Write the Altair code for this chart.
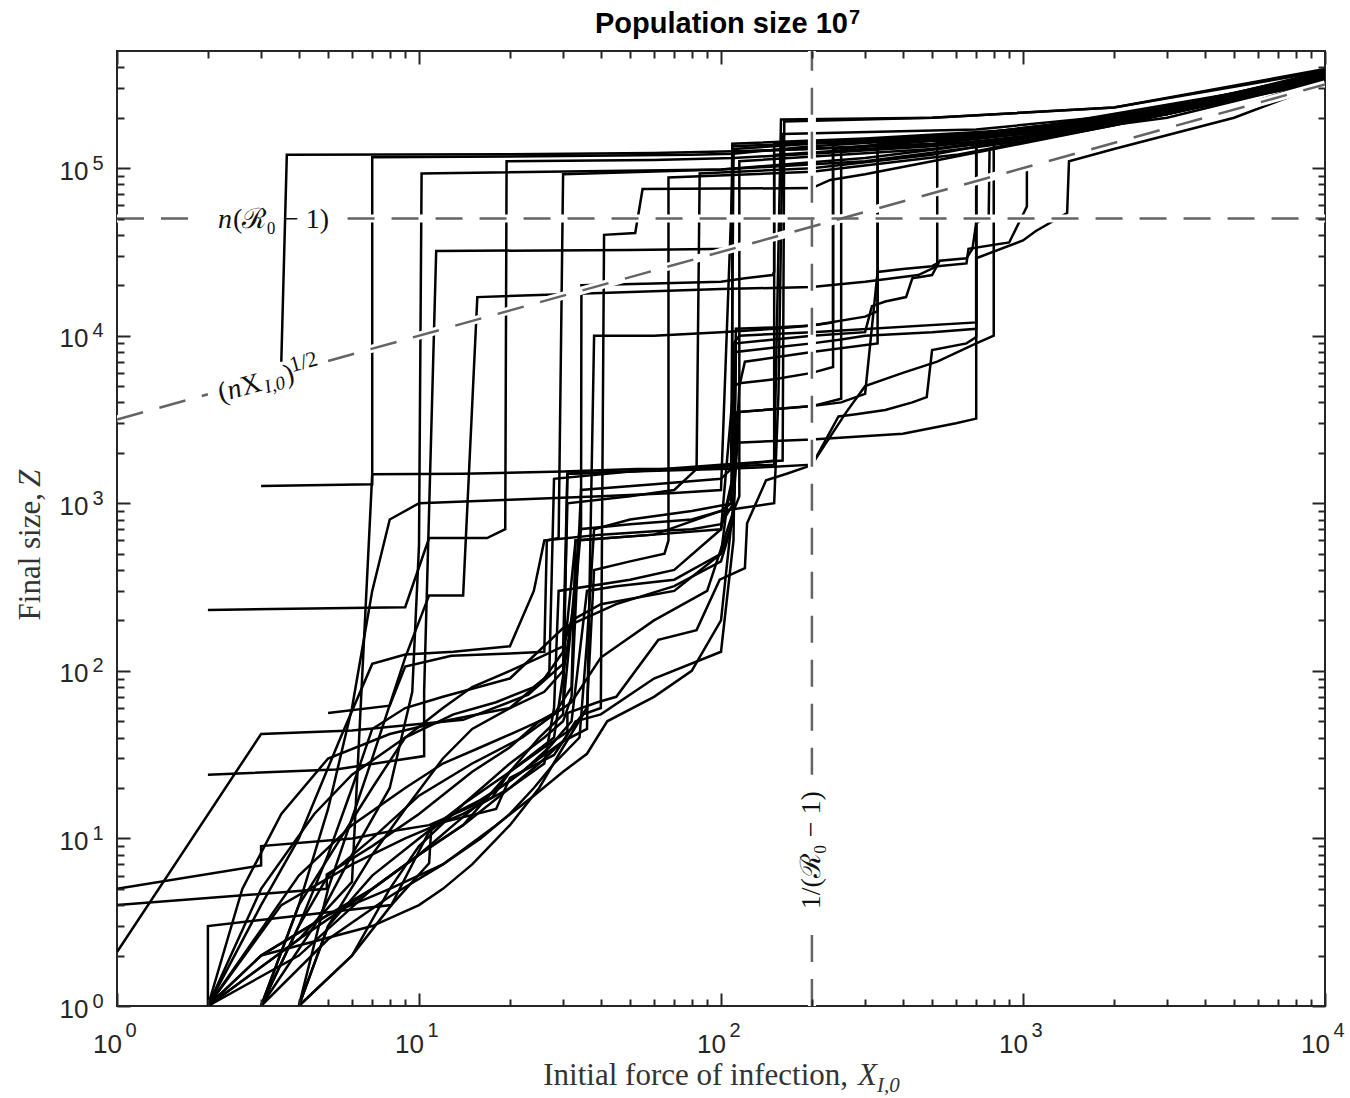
import altair as alt
import pandas as pd

# ---------------- simulated trajectories (X_I,0 , final size Z) ----------------
t01_x = [2, 9, 10.8, 16.8, 19.3, 19.5, 60, 110, 200, 500, 1000, 2000, 5000, 10000]
t01_z = [231, 240, 620, 620, 700, 110000, 112000, 115000, 122000, 135000, 155000, 190000, 260000, 360000]
t02_x = [3, 7, 7, 30, 80, 110, 200, 700, 2000, 5000, 10000]
t02_z = [1270, 1300, 116000, 118000, 120000, 122000, 135000, 155000, 200000, 270000, 370000]
t03_x = [5, 8, 9, 12.8, 20, 26, 26.5, 29, 30, 100, 300, 1000, 3000, 10000]
t03_z = [56, 62, 106, 123, 127, 130, 600, 620, 92000, 98000, 110000, 145000, 210000, 340000]
t04_x = [2, 5.3, 10.4, 10.4, 11.4, 50, 108, 109, 500, 2000, 10000]
t04_z = [24, 25.8, 31, 75, 32000, 32500, 33000, 135000, 150000, 200000, 350000]
t05_x = [1, 3, 6, 14, 23, 30, 33, 60, 100, 108, 110, 115, 200, 700, 700, 3000, 10000]
t05_z = [2.1, 42, 44, 51, 72, 110, 600, 650, 900, 1000, 9000, 10000, 10500, 12000, 150000, 220000, 360000]
t06_x = [1, 3, 3, 6, 8, 10.8, 17.5, 20, 25, 30, 31, 50, 100, 150, 158, 500, 2000, 10000]
t06_z = [5, 6.9, 9, 10, 11, 12, 17.6, 25, 40, 55, 1500, 1550, 1650, 1700, 195000, 200000, 230000, 390000]
t07_x = [1, 4.95, 4.95, 7, 10, 15, 20, 25, 30, 32, 34, 50, 80, 100, 150, 155, 160, 700, 3000, 10000]
t07_z = [4, 5, 6.1, 9, 14, 25, 35, 50, 60, 200, 700, 750, 800, 900, 1000, 4500, 160000, 170000, 220000, 360000]
t08_x = [2, 2, 8.1, 10.8, 13, 16, 20, 25, 30, 36, 38, 60, 100, 150, 200, 300, 330, 330, 2000, 10000]
t08_z = [1, 3, 4, 11, 14, 17, 22, 30, 38, 45, 10000, 10000, 10500, 11000, 11500, 13000, 14000, 138000, 200000, 360000]
t09_x = [3, 7, 10, 12, 15, 20, 25, 30, 35, 40, 41, 52, 55, 200, 230, 300, 500, 2000, 10000]
t09_z = [2, 3, 4, 5, 7, 12, 20, 35, 55, 60, 40000, 41000, 75000, 76000, 85000, 92000, 110000, 180000, 330000]
t10_x = [4, 6, 8.1, 10.8, 11, 18, 20, 28, 31, 31, 39, 45, 62, 83, 99, 120, 122, 141, 165, 200, 245, 280, 350,
         430, 480, 500, 650, 700, 700, 1000, 1100, 1400, 1420, 2000, 5000, 10000]
t10_z = [1, 2, 4, 7.1, 12, 15, 23, 31.5, 41.5, 56, 65, 70, 153, 175, 350, 410, 760, 1370, 1500, 1690, 3300, 3400,
         3600, 4000, 4300, 8200, 9000, 9800, 29000, 37000, 42000, 54000, 110000, 130000, 200000, 320000]
t11_x = [2, 3.5, 6, 9, 14, 20, 26, 28, 29, 50, 70, 100, 110, 112, 150, 200, 300, 316, 350, 410, 430, 500, 530,
         650, 680, 700, 770, 775, 2000, 10000]
t11_z = [1, 4, 7, 10, 14, 20, 28, 60, 300, 350, 400, 700, 1500, 9000, 9500, 10000, 10500, 15000, 16000, 17000,
         22000, 23000, 28000, 29000, 33000, 47000, 52000, 130000, 190000, 350000]
t12_x = [2, 3, 4.5, 6, 9, 13, 18, 24, 27, 28, 50, 100, 160, 162, 500, 2000, 10000]
t12_z = [1, 5, 14, 24, 40, 55, 65, 80, 95, 1400, 1550, 1700, 1800, 190000, 200000, 230000, 380000]
t13_x = [3, 4, 5, 6, 7, 9, 12, 20, 30, 45, 70, 100, 110, 112, 200, 250, 250, 3000, 10000]
t13_z = [1, 3, 8, 20, 45, 60, 70, 90, 180, 250, 320, 450, 800, 3500, 3800, 4200, 130000, 210000, 350000]
t14_x = [2, 4, 7, 10, 14, 20, 26, 32, 36, 38, 50, 65, 67, 67, 200, 600, 2000, 10000]
t14_z = [1, 2.5, 5, 8, 12, 25, 35, 45, 60, 400, 450, 500, 600, 88000, 95000, 120000, 180000, 340000]
t15_x = [4, 5, 7, 9, 12, 15, 20, 26, 30, 31, 50, 70, 83, 85, 200, 500, 2000, 10000]
t15_z = [1, 3, 8, 15, 30, 45, 60, 75, 100, 1000, 1100, 1200, 1600, 93000, 100000, 120000, 190000, 350000]
t16_x = [3, 4, 5.5, 7, 9, 12, 15, 20, 25, 30, 32, 40, 70, 100, 105, 109, 109, 300, 1000, 3000, 10000]
t16_z = [1, 4, 10, 20, 40, 60, 80, 100, 120, 140, 200, 250, 300, 500, 1000, 1200, 140000, 150000, 170000,
         230000, 370000]
t17_x = [2, 4, 6, 9, 12, 16, 22, 28, 32, 40, 60, 90, 110, 115, 115, 500, 3000, 10000]
t17_z = [1, 6, 12, 20, 28, 35, 45, 55, 65, 120, 200, 300, 900, 1100, 110000, 130000, 200000, 340000]
t18_x = [4, 6, 8, 10, 14, 20, 28, 33, 34.4, 34.5, 60, 100, 120, 148, 150, 150, 800, 3000, 10000]
t18_z = [1, 2, 5, 9, 16, 25, 40, 300, 710, 20000, 20500, 21000, 22000, 23000, 24000, 140000, 160000, 210000, 360000]
t19_x = [2, 3, 5, 8, 12, 16, 20, 24, 28, 34, 36, 38, 50, 80, 110, 112, 150, 200, 235, 235, 1000, 3000, 10000]
t19_z = [1, 2, 3.5, 5, 7, 10, 14, 20, 28, 40, 150, 700, 800, 900, 1000, 11000, 11200, 11500, 12000, 140000,
         170000, 230000, 360000]
t20_x = [3, 5, 8, 12, 18, 24, 30, 36, 42, 60, 80, 100, 110, 115, 200, 250, 300, 330, 400, 500, 520, 520, 2000, 10000]
t20_z = [1, 2.5, 4.5, 7, 12, 18, 25, 32, 50, 70, 100, 200, 1000, 3500, 3800, 4000, 4500, 24000, 25000, 26000,
         27000, 143000, 200000, 350000]
t21_x = [2, 4, 7, 10, 14, 20, 25, 30, 33, 40, 60, 100, 110, 112, 150, 200, 250, 300, 500, 700, 700, 3000, 10000]
t21_z = [1, 2, 5, 8, 12, 20, 28, 38, 50, 55, 90, 130, 600, 8000, 8500, 9000, 9500, 10000, 10500, 11000,
         150000, 220000, 350000]
t22_x = [2, 2.6, 3.5, 5, 8, 12, 20, 26, 30, 31, 50, 100, 150, 200, 230, 260, 300, 400, 520, 700, 800, 800, 3000, 10000]
t22_z = [1, 5, 14, 30, 42, 50, 60, 90, 130, 1500, 1550, 1600, 1650, 1700, 2500, 3500, 5000, 6000, 7000, 9000,
         10000, 140000, 210000, 350000]
t23_x = [3, 4.5, 6, 8, 9.5, 10, 10.2, 100, 300, 1000, 4000, 10000]
t23_z = [1, 3, 8, 20, 75, 560, 93000, 98000, 115000, 150000, 240000, 350000]
t24_x = [2, 3, 4, 5.5, 7, 9, 13, 20, 24, 26, 40, 60, 80, 100, 110, 115, 120, 200, 330, 330, 2000, 10000]
t24_z = [1, 4, 10, 40, 110, 125, 130, 140, 300, 600, 650, 680, 700, 750, 1000, 5000, 7000, 8000, 9000, 138000,
         200000, 350000]
t25_x = [3, 4, 5, 7, 10, 15, 22, 28, 32, 33, 60, 100, 110, 115, 150, 200, 235, 235, 2000, 10000]
t25_z = [1, 3, 6, 10, 18, 28, 40, 55, 80, 600, 650, 700, 5000, 5200, 5500, 6000, 6500, 130000, 190000, 340000]
t26_x = [4, 5, 7, 10, 14, 20, 26, 30, 32, 34.4, 60, 100, 108, 110, 300, 1000, 3000, 10000]
t26_z = [1, 3, 6, 10, 16, 28, 40, 50, 70, 1200, 1300, 1400, 1600, 125000, 135000, 160000, 220000, 370000]
t27_x = [2, 3, 5, 7, 10, 13, 17, 22, 27, 32, 36, 45, 70, 100, 110, 112, 200, 400, 600, 700, 700, 2000, 10000]
t27_z = [1, 2, 3.5, 5, 8, 12, 18, 25, 35, 50, 300, 320, 350, 500, 800, 2300, 2400, 2600, 3000, 3200,
         150000, 200000, 360000]
t28_x = [3, 4, 5, 6, 7, 8, 10, 20, 40, 70, 100, 110, 200, 400, 1000, 5000, 10000]
t28_z = [1, 4, 15, 60, 300, 800, 1000, 1050, 1100, 1150, 1200, 130000, 140000, 150000, 170000, 280000, 380000]
t29_x = [2, 4, 6, 7, 14, 30, 52.7, 83.5, 134, 150, 150, 1000, 10000]
t29_z = [1, 2.5, 5.5, 1490, 1500, 1550, 1600, 1600, 1750, 1800, 120000, 150000, 350000]
t30_x = [4, 5, 7, 9, 10.8, 14, 15.6, 40, 100, 200, 300, 450, 520, 650, 660, 900, 1030, 1030, 3000, 10000]
t30_z = [1, 5, 30, 120, 282, 282, 17000, 18000, 19000, 19500, 21000, 23000, 26000, 27000, 33000, 36000, 59000,
         100000, 170000, 340000]
t31_x = [3.5, 3.65, 20, 60, 110, 200, 500, 1000, 2000, 5000, 10000]
t31_z = [7000, 120000, 121000, 123000, 126000, 130000, 140000, 160000, 190000, 260000, 370000]

traj_x = [t01_x, t02_x, t03_x, t04_x, t05_x, t06_x, t07_x, t08_x, t09_x, t10_x,
          t11_x, t12_x, t13_x, t14_x, t15_x, t16_x, t17_x, t18_x, t19_x, t20_x,
          t21_x, t22_x, t23_x, t24_x, t25_x, t26_x, t27_x, t28_x, t29_x, t30_x, t31_x]
traj_z = [t01_z, t02_z, t03_z, t04_z, t05_z, t06_z, t07_z, t08_z, t09_z, t10_z,
          t11_z, t12_z, t13_z, t14_z, t15_z, t16_z, t17_z, t18_z, t19_z, t20_z,
          t21_z, t22_z, t23_z, t24_z, t25_z, t26_z, t27_z, t28_z, t29_z, t30_z, t31_z]

# ---------------- reference lines (two segments each, gap for the label) ----------------
hline_x = [1, 1.95, 5.8, 10000]
hline_z = [50000, 50000, 50000, 50000]
vline_x = [200, 200, 200, 200]
vline_z = [1, 3.0, 24, 500000]
sqrt_x = [1, 2.0, 5.0, 10000]
sqrt_z = [3162, 4472, 7071, 316228]
seg_id = [0, 0, 1, 1]

# ---------------- axis tick positions ----------------
x_major = [1, 10, 100, 1000, 10000]
x_minor = [m * 10 ** k for k in range(4) for m in range(2, 10)]
y_major = [1, 10, 100, 1000, 10000, 100000]
y_minor = [m * 10 ** k for k in range(5) for m in range(2, 10)] + [200000, 300000, 400000]

AX = '#262626'
GRAY = '#646464'
SERIF = 'Liberation Serif, DejaVu Serif, serif'
SANS = 'Liberation Sans, Arial, sans-serif'

rows = []
for i, (xs_, zs_) in enumerate(zip(traj_x, traj_z)):
    for j, (a, b) in enumerate(zip(xs_, zs_)):
        rows.append({'traj': i, 'idx': j, 'X': a, 'Z': b})
traj_df = pd.DataFrame(rows)


def ref_df(xv, zv):
    return pd.DataFrame({'X': xv, 'Z': zv, 'seg': seg_id, 'idx': list(range(len(xv)))})


h_df = ref_df(hline_x, hline_z)
v_df = ref_df(vline_x, vline_z)
s_df = ref_df(sqrt_x, sqrt_z)

xs = alt.Scale(type='log', domain=[1, 10000], nice=False)
ys = alt.Scale(type='log', domain=[1, 500000], nice=False)


def tick_axis(orient, values, size):
    return alt.Axis(orient=orient, values=values, labels=False, domain=False, ticks=True,
                    tickSize=size, offset=-size, tickWidth=2, tickColor=AX, grid=False,
                    title=None, zindex=2)


def label_axis(orient, values, expr, fsize, pad, align=None, shift=0):
    kw = dict(orient=orient, values=values, labelExpr=expr, labelFontSize=fsize, labelFont=SANS,
              labelColor=AX, labelPadding=pad, labelOffset=shift, ticks=False, tickSize=0,
              domain=False, grid=False, title=None, labelFlush=False, labelOverlap=False)
    if align:
        kw['labelAlign'] = align
    return alt.Axis(**kw)


EXP = "'' + round(log(datum.value) / LN10)"

lines = alt.Chart(traj_df).mark_line(color='black', strokeWidth=2.5, clip=True).encode(
    x=alt.X('X:Q', scale=xs, axis=label_axis('bottom', x_major, "'10'", 26, 25, shift=-10)),
    y=alt.Y('Z:Q', scale=ys, axis=label_axis('left', y_major, "'10'", 26, 29, shift=3)),
    detail='traj:N', order='idx:Q')

white_h = alt.Chart(h_df).mark_line(color='white', strokeWidth=8, clip=True).encode(
    x=alt.X('X:Q', scale=xs, axis=label_axis('bottom', x_major, EXP, 20, 14, align='left', shift=8)),
    y=alt.Y('Z:Q', scale=ys, axis=label_axis('left', y_major, EXP, 20, 25, align='left', shift=-5)),
    detail='seg:N', order='idx:Q')
white_v = alt.Chart(v_df).mark_line(color='white', strokeWidth=8, clip=True).encode(
    x=alt.X('X:Q', scale=xs, axis=tick_axis('bottom', x_major, 13)),
    y=alt.Y('Z:Q', scale=ys, axis=tick_axis('left', y_major, 13)),
    detail='seg:N', order='idx:Q')
white_s = alt.Chart(s_df).mark_line(color='white', strokeWidth=8, clip=True).encode(
    x=alt.X('X:Q', scale=xs, axis=tick_axis('bottom', x_minor, 7)),
    y=alt.Y('Z:Q', scale=ys, axis=tick_axis('left', y_minor, 7)),
    detail='seg:N', order='idx:Q')

DASH = [27, 17]
gray_h = alt.Chart(h_df).mark_line(color=GRAY, strokeWidth=2.5, strokeDash=DASH, clip=True).encode(
    x=alt.X('X:Q', scale=xs, axis=tick_axis('top', x_major, 13)),
    y=alt.Y('Z:Q', scale=ys, axis=tick_axis('right', y_major, 13)),
    detail='seg:N', order='idx:Q')
gray_v = alt.Chart(v_df).mark_line(color=GRAY, strokeWidth=2.5, strokeDash=DASH, clip=True).encode(
    x=alt.X('X:Q', scale=xs, axis=tick_axis('top', x_minor, 7)),
    y=alt.Y('Z:Q', scale=ys, axis=tick_axis('right', y_minor, 7)),
    detail='seg:N', order='idx:Q')
gray_s = alt.Chart(s_df).mark_line(color=GRAY, strokeWidth=2.5, strokeDash=DASH, clip=True).encode(
    x=alt.X('X:Q', scale=xs, axis=None),
    y=alt.Y('Z:Q', scale=ys, axis=None),
    detail='seg:N', order='idx:Q')


def data_text(xv, zv, txt, size=28, style='normal', angle=0, align='left', baseline='alphabetic', dx=0, dy=0):
    kw = dict(font=SERIF, fontSize=size, fontStyle=style, align=align, baseline=baseline,
              color='#111111', dx=dx, dy=dy)
    if angle:
        kw['angle'] = angle
    return alt.Chart(pd.DataFrame({'X': [xv], 'Z': [zv], 't': [txt]})).mark_text(**kw).encode(
        x=alt.X('X:Q', scale=xs, axis=None), y=alt.Y('Z:Q', scale=ys, axis=None), text='t:N')


def px_text(px, py, txt, size, font, style='normal', weight='normal', align='left',
            baseline='alphabetic', angle=0, color='#111111'):
    kw = dict(font=font, fontSize=size, fontStyle=style, fontWeight=weight, align=align,
              baseline=baseline, color=color)
    if angle:
        kw['angle'] = angle
    return alt.Chart(pd.DataFrame({'t': [txt]})).mark_text(**kw).encode(
        x=alt.value(px), y=alt.value(py), text='t:N')


SQ_ANG = 344.5
annotations = [
    data_text(2.16, 44000, 'n', style='italic'),
    data_text(2.42, 44000, '(ℛ₀ − 1)'),
    data_text(200, 8.5, '1/(ℛ₀ − 1)', angle=270, align='center', baseline='middle'),
    data_text(2.158, 4645, '(', angle=SQ_ANG, baseline='middle', dy=3),
    data_text(2.312, 4808, 'n', style='italic', angle=SQ_ANG, baseline='middle', dy=3),
    data_text(2.564, 5064, 'X', angle=SQ_ANG, baseline='middle', dy=3),
    data_text(3.0, 5477, 'I,0', size=19, style='italic', angle=SQ_ANG, baseline='middle', dx=1.6, dy=8.8),
    data_text(3.57, 5975, ')', angle=SQ_ANG, baseline='middle', dy=3),
    data_text(3.85, 6205, '1/2', size=22, angle=SQ_ANG, baseline='middle', dx=-2.4, dy=-5.7),
]

titles = [
    px_text(731, -18, 'Population size 10', 29, SANS, weight='bold', align='right', color='black'),
    px_text(732, -27, '7', 20, SANS, weight='bold', color='black'),
    px_text(731, 1034, 'Initial force of infection,', 31, SERIF, align='right', color='#333333'),
    px_text(741, 1034, 'X', 31, SERIF, style='italic', color='#333333'),
    px_text(760, 1041, 'I,0', 21, SERIF, style='italic', color='#333333'),
    px_text(-77, 442, 'Final size,', 31, SERIF, align='right', angle=270, color='#333333'),
    px_text(-77, 436, 'Z', 31, SERIF, style='italic', angle=270, color='#333333'),
]

chart = alt.layer(lines, white_h, white_v, white_s, gray_h, gray_v, gray_s, *annotations, *titles).resolve_axis(
    x='independent', y='independent'
).properties(
    width=1208, height=955,
    autosize=alt.AutoSizeParams(type='none'),
    padding={'left': 117, 'top': 51, 'right': 25, 'bottom': 92},
).configure_view(stroke=AX, strokeWidth=2)

chart.save('out.html', embed_options={'renderer': 'svg', 'actions': False})
